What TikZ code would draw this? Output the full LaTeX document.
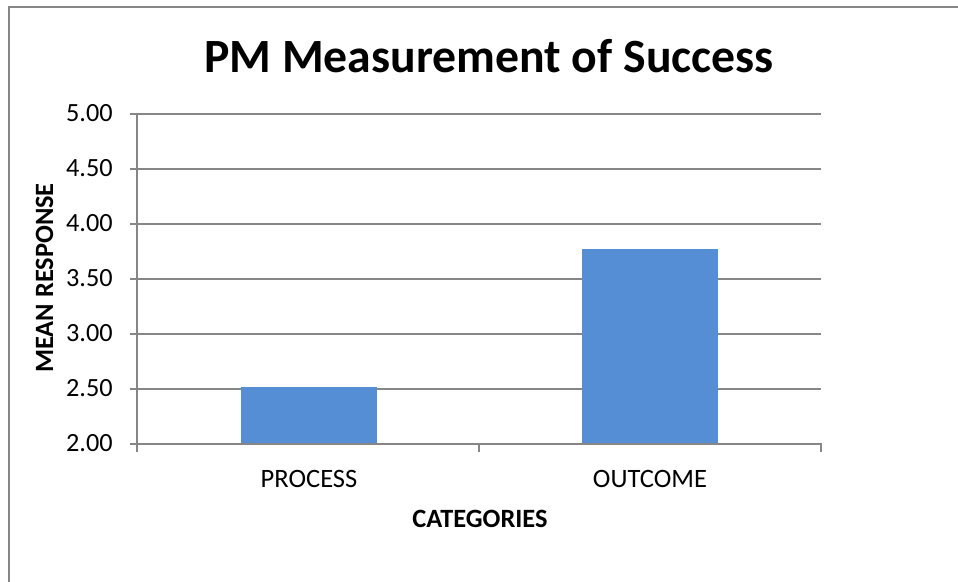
\documentclass[tikz,border=0pt]{standalone}
\usepackage{fontspec}
\setmainfont{Carlito}
\definecolor{barblue}{RGB}{85,142,213}
\definecolor{axisgray}{RGB}{134,134,134}
\begin{document}
\begin{tikzpicture}[x=0.75pt,y=-0.75pt,
  gridline/.style={draw=axisgray,line width=1pt},
  axisline/.style={draw=axisgray,line width=1.4pt},
  bar/.style={fill=barblue,draw=none},
  ticklabel/.style={anchor=base east,inner sep=0pt,font=\fontsize{19.7}{20}\selectfont},
  catlabel/.style={anchor=base,inner sep=0pt,font=\fontsize{19.9}{20}\selectfont},
  axtitle/.style={anchor=base,inner sep=0pt,font=\bfseries\fontsize{19.8}{20}\selectfont},
  charttitle/.style={anchor=base,inner sep=0pt,font=\bfseries\fontsize{35.8}{36}\selectfont}]
\useasboundingbox (0,0) rectangle (958,582);
\fill[white] (0,0) rectangle (958,582);
% chart border
\draw[draw=axisgray,line width=1pt] (9,590) -- (9,7) -- (965,7);
% grid lines and y tick labels
\foreach \v [count=\i from 0] in {2.00,2.50,3.00,3.50,4.00,4.50,5.00} {
  \coordinate (gl\i) at (130,444-55*\i);
  \coordinate (gr\i) at (821,444-55*\i);
  \ifnum\i>0 \draw[gridline] (gl\i) -- (gr\i); \fi
  \node[ticklabel] (yl\i) at (113,451.5-55*\i) {\v};
}
% bars
\fill[bar] (241,444) rectangle (377,387);
\fill[bar] (582,444) rectangle (718,249);
% axes
\coordinate (ytop) at (137,114);
\coordinate (ybot) at (137,452);
\draw[axisline] (ytop) -- (ybot);
\draw[axisline] (gl0) -- (821,444) -- (821,452);
\draw[axisline] (479,444) -- (479,452);
% category labels
\node[catlabel] (c1) at (309,487) {PROCESS};
\node[catlabel] (c2) at (650,487) {OUTCOME};
% axis titles
\node[axtitle] (xt) at (480,527) {CATEGORIES};
\node[axtitle,rotate=90] (yt) at (53,278) {MEAN RESPONSE};
% chart title
\node[charttitle] (title) at (489,72) {PM Measurement of Success};
\end{tikzpicture}
\end{document}
